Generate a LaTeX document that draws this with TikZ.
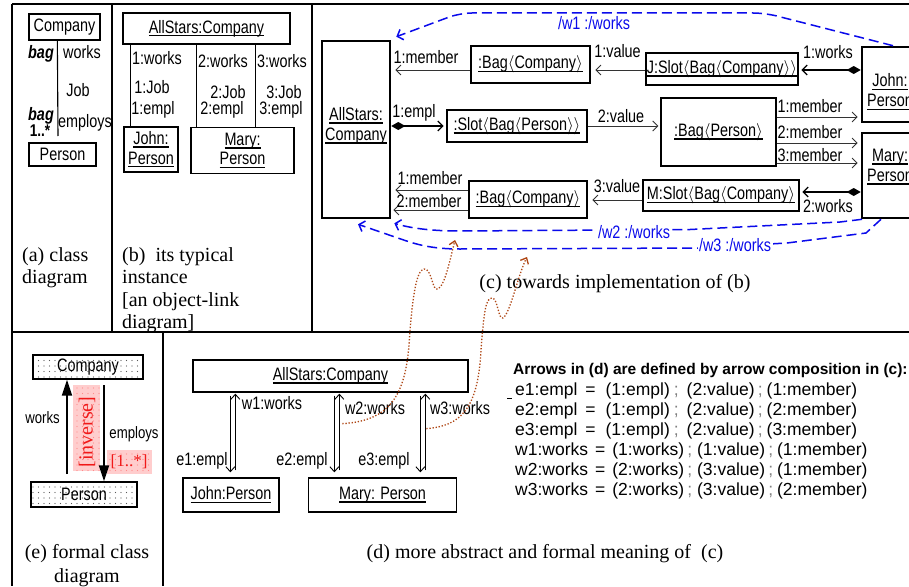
\documentclass[tikz,border=0pt]{standalone}
\usepackage{fontspec}
\setmainfont{Liberation Serif}
\newfontfamily\narrowf{Liberation Sans}[FakeStretch=0.8]
\newfontfamily\arialf{Liberation Sans}
\usetikzlibrary{arrows.meta,patterns,calc}
\definecolor{wblue}{RGB}{10,10,235}
\definecolor{brn}{RGB}{175,70,20}
\definecolor{pinkbg}{RGB}{255,205,205}
\definecolor{redtxt}{RGB}{240,25,25}
\pgfdeclarepatternformonly{sparsedots}{\pgfqpoint{-1pt}{-1pt}}{\pgfqpoint{1pt}{1pt}}{\pgfqpoint{5.5pt}{5.5pt}}{\pgfpathcircle{\pgfqpoint{0pt}{0pt}}{0.55pt}\pgfusepath{fill}}
\newcommand\myul[1]{\setbox0=\hbox{#1}\rlap{\raisebox{-3.2pt}{\rule{\wd0}{1.5pt}}}\box0}
\newcommand\lng{$\langle$}
\newcommand\rng{$\rangle$}
\newcommand\gsc{{\color{gray};}}
\begin{document}
\begin{tikzpicture}[x=1pt,y=-1pt,
  lab/.style={font=\narrowf\fontsize{18}{21}\selectfont, inner sep=0pt},
  labtwo/.style={font=\narrowf\fontsize{18}{19.5}\selectfont, inner sep=0pt, align=center},
  elab/.style={font=\narrowf\fontsize{16.5}{19}\selectfont, inner sep=0pt},
  flab/.style={font=\arialf\fontsize{17.5}{20}\selectfont, inner sep=0pt, anchor=west},
  capt/.style={font=\fontsize{20}{22}\selectfont, inner sep=0pt, anchor=base west},
  thinbox/.style={draw, line width=1.3pt, inner sep=0pt, align=center},
  thickbox/.style={draw, line width=2.6pt, inner sep=0pt, align=center},
  frame/.style={line width=1.3pt},
  memb/.style={draw=black!80, line width=0.9pt, -{Straight Barb[length=5pt,width=10pt]}, shorten >=4pt},
  dia/.style={line width=1.3pt, arrows={Diamond[length=14pt,width=8pt]-Straight Barb[length=5pt,width=10pt]}, shorten >=2pt},
  bluedash/.style={wblue, line width=1.5pt, dash pattern=on 10pt off 5pt, -{Straight Barb[length=5pt,width=11pt]}},
  squig/.style={brn, line width=1.3pt, dash pattern=on 1.3pt off 1.8pt, -{Straight Barb[length=5pt,width=9pt]}},
  thinarr/.style={line width=0.9pt, -{Straight Barb[length=5pt,width=9pt]}},
  fatarr/.style={line width=1.8pt, -{Triangle[length=16pt,width=10pt]}},
  dotbox/.style={draw, line width=1.3pt, inner sep=0pt, pattern=sparsedots, pattern color=black!65},
  wl/.style={lab, text=wblue, fill=white, inner sep=1.5pt}
]
\useasboundingbox (0,0) rectangle (909,586);
\clip (0,0) rectangle (909,586);
\fill[white] (0,0) rectangle (909,586);

% ---------- frame ----------
\draw[frame] (12,4) -- (909,4);
\draw[frame] (12,4) -- (12,586);
\draw[frame] (112,4) -- (112,332);
\draw[frame] (312,4) -- (312,332);
\draw[frame] (12,332) -- (909,332);
\draw[frame] (163,332) -- (163,586);

% ---------- (a) ----------
\node[thinbox, lab, minimum width=71, minimum height=26] (aC) at (64.5,27) {Company};
\node[thinbox, lab, minimum width=67, minimum height=23] (aP) at (62.5,154.5) {Person};
\coordinate (aTop) at ($(aC.south west)+(29,0)$);
\coordinate (aEnd) at (58,136);
\draw[line width=1.1pt] (aTop) -- (aEnd);
\node[lab, font={\narrowf\fontsize{18}{21}\selectfont\bfseries\itshape}] (aBag1) at (41,54) {bag};
\node[lab] (aWorks) at (82,52) {works};
\node[lab] (aJob) at (78,90) {Job};
\node[lab, font={\narrowf\fontsize{18}{21}\selectfont\bfseries\itshape}] (aBag2) at (41,116) {bag};
\node[lab] (aEmp) at (85,123) {employs};
\node[lab, font={\narrowf\fontsize{17}{21}\selectfont\bfseries}] (aMult) at (40,131) {1..*};
\node[capt] (capA1) at (22,261) {(a) class};
\node[capt] (capA2) at (22,283) {diagram};

% ---------- (b) ----------
\node[thinbox, lab, minimum width=167, minimum height=31] (bC) at (206.5,28.5) {\myul{AllStars:Company}};
\node[thinbox, labtwo, minimum width=54, minimum height=45] (bJ) at (151,149.5) {\myul{John:}\\\myul{Person}};
\node[thinbox, labtwo, minimum width=103, minimum height=46] (bM) at (242.5,150.5) {\myul{Mary:}\\\myul{Person}};
\draw[line width=1.1pt] ($(bC.south west)+(8,0)$) -- ($(bJ.north west)+(7,0)$);
\draw[line width=1.1pt] ($(bC.south west)+(74,0)$) -- ($(bM.north west)+(6,0)$);
\draw[line width=1.1pt] ($(bC.south west)+(133,0)$) -- ($(bM.north west)+(65,0)$);
\node[lab] (bw1) at (157,58) {1:works};
\node[lab] (bw2) at (223,61) {2:works};
\node[lab] (bw3) at (282,61) {3:works};
\node[lab] (bj1) at (152,87) {1:Job};
\node[lab] (bj2) at (228,92) {2:Job};
\node[lab] (bj3) at (284,92) {3:Job};
\node[lab] (be1) at (153,110) {1:empl};
\node[lab] (be2) at (222,110) {2:empl};
\node[lab] (be3) at (281,110) {3:empl};
\node[capt] (capB1) at (122,261) {(b)\ \ its typical};
\node[capt] (capB2) at (122,283) {instance};
\node[capt] (capB3) at (122,306) {[an object-link};
\node[capt] (capB4) at (122,328) {diagram]};

% ---------- (c) ----------
\node[thickbox, minimum width=68, minimum height=177] (cA) at (356,129.5) {};
\node[labtwo, font=\narrowf\fontsize{18}{20}\selectfont] (cAt) at (356,126) {\myul{AllStars:}\\\myul{Company}};
\node[thickbox, lab, minimum width=119, minimum height=37] (cB1) at (530.5,64.5) {\myul{:Bag\lng Company\rng}};
\node[thickbox, lab, minimum width=152, minimum height=32] (cJS) at (722,69) {\myul{J:Slot\lng Bag\lng Company\rng\rng}};
\node[thickbox, minimum width=56, minimum height=75] (cJ) at (890,84.5) {};
\node[labtwo, font=\narrowf\fontsize{18}{20}\selectfont] (cJt) at (890,92) {\myul{John:}\\\myul{Person}};
\node[thickbox, lab, minimum width=140, minimum height=32] (cS) at (517,126) {\myul{:Slot\lng Bag\lng Person\rng\rng}};
\node[thinbox, lab, minimum width=115, minimum height=68] (cBP) at (718.5,132) {\myul{:Bag\lng Person\rng}};
\node[thickbox, minimum width=56, minimum height=85] (cM) at (890,175.5) {};
\node[labtwo, font=\narrowf\fontsize{18}{20}\selectfont] (cMt) at (890,167) {\myul{Mary:}\\\myul{Person}};
\node[thickbox, lab, minimum width=156, minimum height=31] (cMS) at (721,195.5) {\myul{M:Slot\lng Bag\lng Company\rng}};
\node[thickbox, lab, minimum width=118, minimum height=37] (cB2) at (528,199.5) {\myul{:Bag\lng Company\rng}};

% row 1
\coordinate (r1) at ($(cB1.west)+(0,5.5)$);
\draw[memb] (r1) -- (r1 -| cA.east);
\node[lab] (c1m) at (426,57) {1:member};
\coordinate (r2) at ($(cJS.west)+(0,1)$);
\draw[memb] (r2) -- (r2 -| cB1.east);
\node[lab] (c1v) at (617.5,51) {1:value};
\coordinate (r3) at ($(cJ.west)+(0,-14.5)$);
\draw[dia] (r3) -- (r3 -| cJS.east);
\node[lab] (c1w) at (828,52) {1:works};
% row 2
\coordinate (r4) at ($(cA.east)+(0,-3.5)$);
\draw[dia] (r4) -- (r4 -| cS.west);
\node[lab] (c1e) at (414,113) {1:empl};
\coordinate (r5) at (cS.east);
\draw[memb, shorten >=2pt] (r5) -- (r5 -| cBP.west);
\node[lab] (c2v) at (621,116) {2:value};
\coordinate (r6) at ($(cBP.east)+(0,-15)$);
\draw[memb, shorten >=3pt] (r6) -- (r6 -| cJ.west);
\node[lab] (c1mb) at (810,106) {1:member};
\coordinate (r7) at ($(cBP.east)+(0,11)$);
\draw[memb, shorten >=3pt] (r7) -- (r7 -| cM.west);
\node[lab] (c2mb) at (810,132) {2:member};
\coordinate (r8) at ($(cBP.east)+(0,31)$);
\draw[memb, shorten >=3pt] (r8) -- (r8 -| cM.west);
\node[lab] (c3mb) at (810,155) {3:member};
% row 3
\coordinate (r9) at ($(cM.west)+(0,16.5)$);
\draw[dia] (r9) -- (r9 -| cMS.east);
\node[lab] (c2w) at (828,206) {2:works};
\coordinate (r10) at ($(cMS.west)+(0,4.5)$);
\draw[memb] (r10) -- (r10 -| cB2.east);
\node[lab] (c3v) at (617,186) {3:value};
\coordinate (r11) at ($(cB2.west)+(0,-9.5)$);
\draw[memb] (r11) -- (r11 -| cA.east);
\node[lab] (c1mc) at (430,178) {1:member};
\coordinate (r12) at ($(cB2.west)+(0,10.5)$);
\draw[memb, shorten >=2pt] (r12) -- (r12 -| cA.east);
\node[lab] (c2mc) at (429,201) {2:member};

% blue derived links
\draw[bluedash, rounded corners=12pt] ($(cJ.north)+(3,0)$) -- (765,13) -- (460,13) -- ($(cA.north east)+(5,-3)$);
\node[lab, text=wblue] (w1l) at (594,23) {/w1 :/works};
\draw[bluedash] ($(cM.south)+(-28,0)$) -- (840,222) -- (690,229.5) -- (460,231) .. controls (430,231) and (410,228) .. ($(cA.south east)+(3,4)$);
\node[wl] (w2l) at (634,232) {/w2 :/works};
\draw[bluedash] ($(cM.south)+(-9,0)$) -- (866,233) -- (787,243) -- (700,248) -- (460,249) .. controls (425,249) and (410,242) .. (392,236) -- ($(cA.south)+(2,5)$);
\node[wl] (w3l) at (735,245) {/w3 :/works};

\node[font=\fontsize{20}{22}\selectfont, inner sep=0pt, anchor=base] (capC) at (615,288) {(c) towards implementation of (b)};

% ---------- (d) ----------
\node[thinbox, lab, minimum width=275, minimum height=32] (dA) at (330.5,376) {\myul{AllStars:Company}};
\node[thinbox, lab, minimum width=96, minimum height=34] (dJ) at (231,495) {\myul{John:Person}};
\node[thinbox, lab, minimum width=148, minimum height=34] (dM) at (382.5,495) {\myul{Mary: Person}};
\coordinate (d1a) at ($(dA.south west)+(38,0)$);
\coordinate (d1b) at ($(dA.south west)+(43,0)$);
\coordinate (d2a) at ($(dA.south west)+(142,0)$);
\coordinate (d2b) at ($(dA.south west)+(147,0)$);
\coordinate (d3a) at ($(dA.south west)+(228,0)$);
\coordinate (d3b) at ($(dA.south west)+(233,0)$);
\draw[thinarr, shorten <=3pt, shorten >=5pt] (d1a) -- (d1a |- dJ.north);
\draw[thinarr, shorten <=7pt, shorten >=1pt] (d1b |- dJ.north) -- (d1b);
\draw[thinarr, shorten <=3pt, shorten >=5pt] (d2a) -- (d2a |- dM.north);
\draw[thinarr, shorten <=7pt, shorten >=1pt] (d2b |- dM.north) -- (d2b);
\draw[thinarr, shorten <=3pt, shorten >=5pt] (d3a) -- (d3a |- dM.north);
\draw[thinarr, shorten <=7pt, shorten >=1pt] (d3b |- dM.north) -- (d3b);
\node[lab] (dw1) at (272,403) {w1:works};
\node[lab] (dw2) at (375,408) {w2:works};
\node[lab] (dw3) at (460,408) {w3:works};
\node[lab] (de1) at (202,461) {e1:empl};
\node[lab] (de2) at (302,461) {e2:empl};
\node[lab] (de3) at (384,461) {e3:empl};
\draw[line width=0.8pt] (507,398) -- (512,398);

% brown squiggles from (d) to (c)
\coordinate (sq1s) at ($(d2b)+(3,31)$);
\coordinate (sq1e) at (455,240);
\draw[squig] (sq1s) .. controls (390,421) and (405,395) .. (409,345) .. controls (412,300) and (416,270) .. (424,269) .. controls (432,268) and (432,292) .. (438,289) .. controls (445,285) and (450,260) .. (sq1e);
\coordinate (sq2s) at ($(d3b)+(1,36)$);
\coordinate (sq2e) at (527,257);
\draw[squig] (sq2s) .. controls (460,426) and (478,410) .. (481,350) .. controls (484,310) and (486,298) .. (492,298) .. controls (498,298) and (498,320) .. (503,318) .. controls (510,314) and (518,275) .. (sq2e);

\node[font=\fontsize{20}{22}\selectfont, inner sep=0pt, anchor=base] (capD) at (545,558) {(d) more abstract and formal meaning of\ \ (c)};

% formulas
\node[font=\arialf\bfseries\fontsize{15.5}{18}\selectfont, anchor=west, inner sep=0pt] (fh) at (513,370) {Arrows in (d) are defined by arrow composition in (c):};
\foreach \n/\yy/\pa/\pb/\pc/\pd in {1/391/e1:empl/(1:empl)/(2:value)/(1:member), 2/411/e2:empl/(1:empl)/(2:value)/(2:member), 3/431/e3:empl/(1:empl)/(2:value)/(3:member)} {
  \node[flab] (fe\n) at (515,\yy) {\pa\hspace{8pt}=\hspace{10pt}\pb\hspace{4pt}\gsc\hspace{8pt}\pc\hspace{3pt}\gsc\hspace{4pt}\pd};
}
\foreach \n/\yy/\pa/\pb/\pc/\pd in {1/451/w1:works/(1:works)/(1:value)/(1:member), 2/471/w2:works/(2:works)/(3:value)/(1:member), 3/491/w3:works/(2:works)/(3:value)/(2:member)} {
  \node[flab] (fw\n) at (515,\yy) {\pa\hspace{7pt}=\hspace{7pt}\pb\hspace{3pt}\gsc\hspace{5pt}\pc\hspace{3pt}\gsc\hspace{4pt}\pd};
}

% ---------- (e) ----------
\node[dotbox, lab, minimum width=110, minimum height=24] (eC) at (88,367) {Company};
\node[dotbox, lab, minimum width=106, minimum height=25] (eP) at (84,494.5) {Person};
\fill[pinkbg] (73,385) rectangle (100,471);
\fill[pattern=sparsedots, pattern color=red!45] (73,385) rectangle (100,471);
\fill[pinkbg] (107,450) rectangle (152,474);
\fill[pattern=sparsedots, pattern color=red!45] (107,450) rectangle (152,474);
\node[font=\fontsize{20}{22}\selectfont, text=redtxt, rotate=90, inner sep=0pt] (eInv) at (87,432) {[inverse]};
\node[font=\fontsize{17}{20}\selectfont, text=redtxt, inner sep=0pt] (eMul) at (129,462) {[1..*]};
\coordinate (eWs) at (67,474);
\draw[fatarr] (eWs) -- (eWs |- eC.south);
\coordinate (eEs) at (104,385);
\draw[fatarr] (eEs) -- (eEs |- eP.north);
\node[elab] (eWl) at (42.5,418) {works};
\node[elab] (eEl) at (134,434) {employs};
\node[font=\fontsize{20}{22}\selectfont, inner sep=0pt, anchor=base] (capE1) at (87,558) {(e) formal class};
\node[font=\fontsize{20}{22}\selectfont, inner sep=0pt, anchor=base] (capE2) at (87,582) {diagram};
\end{tikzpicture}
\end{document}
